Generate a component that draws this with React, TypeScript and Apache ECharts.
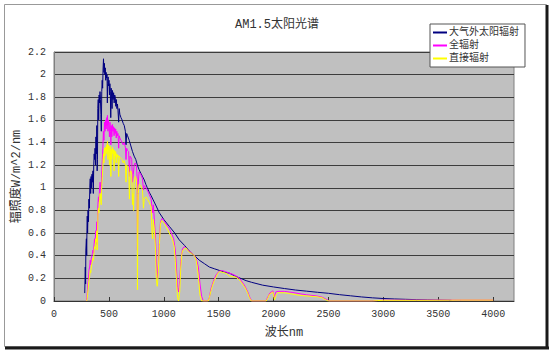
import React, { useEffect, useRef } from "react";
import * as echarts from "echarts";

// Wavelength (nm), spectral irradiance (W/m^2/nm) pairs
const extraterrestrial: number[][] = [
  [280,0.07],[285,0.3],[288,0.15],[290,0.45],[295,0.55],[298,0.4],[300,0.62],[303,0.75],[306,0.6],[310,0.8],[314,0.7],[318,0.9],[322,0.82],[326,1.0],[330,1.08],[334,0.95],[338,1.1],[342,1.0],[346,1.12],[350,1.05],[355,1.15],[358,0.95],[362,1.2],[366,1.3],[370,1.25],[374,1.35],[378,1.2],[382,1.45],[386,1.3],[390,1.55],[393,1.15],[396,1.25],[399,1.7],[403,1.78],[407,1.6],[411,1.82],[415,1.75],[419,1.85],[423,1.78],[427,1.65],[431,1.5],[435,1.85],[439,1.95],[443,1.88],[447,2.05],[451,2.14],[455,2.02],[459,2.1],[463,2.0],[467,2.06],[471,1.95],[475,2.02],[479,1.97],[483,2.0],[486,1.75],[489,1.92],[493,1.98],[497,1.9],[501,1.95],[505,1.82],[509,1.92],[513,1.85],[517,1.62],[521,1.88],[525,1.8],[529,1.7],[533,1.86],[538,1.78],[543,1.84],[548,1.75],[553,1.82],[558,1.8],[563,1.72],[568,1.78],[573,1.7],[578,1.74],[583,1.68],[589,1.58],[594,1.7],[600,1.65],[610,1.62],[620,1.6],[630,1.57],[640,1.55],[650,1.5],[656,1.38],[662,1.48],[670,1.46],[685,1.42],[700,1.37],[715,1.32],[730,1.28],[745,1.25],[760,1.2],[775,1.16],[790,1.13],[806,1.1],[822,1.07],[837,1.03],[850,1.0],[868,0.96],[885,0.93],[900,0.9],[930,0.84],[959,0.78],[980,0.75],[1000,0.72],[1050,0.66],[1100,0.6],[1141,0.54],[1190,0.49],[1233,0.44],[1280,0.4],[1324,0.36],[1370,0.33],[1415,0.3],[1460,0.285],[1507,0.27],[1550,0.255],[1600,0.245],[1650,0.22],[1700,0.2],[1750,0.18],[1800,0.165],[1900,0.14],[2000,0.124],[2100,0.11],[2200,0.097],[2300,0.087],[2400,0.077],[2500,0.068],[2600,0.056],[2700,0.046],[2800,0.036],[2900,0.028],[3000,0.022],[3100,0.018],[3200,0.015],[3300,0.012],[3400,0.01],[3500,0.008],[3620,0.006]
];

const globalRad: number[][] = [
  [295,0.0],[300,0.03],[305,0.1],[310,0.17],[315,0.22],[320,0.28],[325,0.3],[330,0.36],[335,0.32],[340,0.38],[345,0.4],[350,0.42],[355,0.45],[360,0.42],[365,0.5],[370,0.55],[375,0.52],[380,0.62],[385,0.58],[390,0.7],[393,0.5],[396,0.6],[400,0.85],[405,0.92],[410,0.88],[415,1.0],[420,1.05],[425,1.0],[430,0.95],[435,1.15],[440,1.25],[445,1.35],[450,1.5],[455,1.42],[460,1.58],[465,1.5],[470,1.6],[475,1.52],[480,1.62],[484,1.55],[487,1.64],[491,1.5],[495,1.6],[500,1.55],[505,1.45],[510,1.58],[515,1.5],[518,1.38],[522,1.55],[527,1.45],[532,1.56],[537,1.5],[542,1.54],[547,1.46],[552,1.53],[557,1.48],[562,1.52],[567,1.44],[572,1.5],[577,1.46],[583,1.48],[589,1.35],[594,1.46],[600,1.44],[610,1.42],[620,1.4],[630,1.38],[640,1.4],[650,1.36],[656,1.25],[662,1.35],[670,1.33],[680,1.32],[687,1.1],[692,1.28],[700,1.27],[708,1.25],[715,1.05],[722,1.12],[730,1.2],[740,1.22],[750,1.2],[757,1.1],[760,0.45],[763,0.75],[768,1.05],[775,1.14],[790,1.12],[806,1.08],[815,0.98],[822,1.02],[837,1.0],[850,0.98],[868,0.94],[885,0.9],[898,0.78],[905,0.85],[915,0.7],[925,0.55],[935,0.3],[942,0.2],[950,0.32],[960,0.55],[970,0.7],[985,0.73],[1000,0.71],[1020,0.68],[1050,0.64],[1070,0.6],[1090,0.55],[1105,0.45],[1115,0.3],[1125,0.12],[1135,0.08],[1145,0.18],[1155,0.35],[1170,0.46],[1185,0.48],[1200,0.47],[1233,0.44],[1260,0.42],[1280,0.4],[1300,0.36],[1315,0.3],[1330,0.15],[1345,0.04],[1360,0.0],[1400,0.0],[1415,0.03],[1430,0.11],[1450,0.17],[1476,0.23],[1500,0.26],[1530,0.27],[1560,0.26],[1600,0.245],[1630,0.235],[1660,0.22],[1690,0.2],[1720,0.16],[1740,0.13],[1765,0.08],[1785,0.03],[1800,0.0],[1930,0.0],[1950,0.04],[1965,0.07],[1994,0.09],[2008,0.03],[2020,0.08],[2040,0.085],[2100,0.085],[2176,0.075],[2250,0.062],[2300,0.055],[2390,0.045],[2440,0.035],[2470,0.02],[2490,0.01],[2510,0.0],[2900,0.0],[2950,0.004],[3000,0.007],[3300,0.008],[3600,0.008],[4000,0.008]
];

const directRad: number[][] = [
  [298,0.0],[302,0.02],[306,0.06],[310,0.1],[315,0.15],[320,0.19],[325,0.22],[330,0.27],[335,0.25],[340,0.3],[345,0.33],[350,0.35],[355,0.38],[360,0.36],[365,0.44],[370,0.48],[375,0.46],[380,0.55],[385,0.52],[390,0.62],[393,0.45],[396,0.55],[400,0.76],[405,0.82],[410,0.78],[415,0.9],[420,0.95],[425,0.9],[430,0.85],[435,1.02],[440,1.1],[445,1.18],[450,1.3],[455,1.22],[460,1.35],[465,1.28],[470,1.36],[475,1.3],[480,1.38],[484,1.33],[487,1.41],[491,1.25],[495,1.38],[500,1.35],[505,1.2],[510,1.37],[515,1.3],[518,1.1],[522,1.34],[527,1.25],[532,1.36],[537,1.3],[542,1.34],[547,1.15],[552,1.33],[557,1.28],[562,1.32],[567,1.22],[572,1.3],[577,1.27],[583,1.29],[589,1.1],[594,1.28],[600,1.27],[610,1.26],[620,1.25],[630,1.22],[640,1.24],[650,1.2],[656,1.05],[662,1.2],[670,1.19],[680,1.18],[687,0.9],[692,1.14],[700,1.15],[708,1.12],[715,0.85],[720,0.95],[725,0.8],[730,1.05],[740,1.1],[750,1.08],[757,0.95],[760,0.1],[763,0.55],[768,0.95],[775,1.03],[790,1.02],[806,0.98],[815,0.82],[822,0.9],[837,0.92],[850,0.9],[868,0.87],[885,0.83],[893,0.6],[898,0.55],[905,0.72],[915,0.62],[925,0.45],[932,0.2],[940,0.13],[945,0.18],[950,0.25],[960,0.5],[970,0.68],[980,0.71],[1000,0.69],[1020,0.66],[1050,0.6],[1065,0.57],[1080,0.54],[1095,0.48],[1105,0.35],[1115,0.2],[1125,0.03],[1135,0.0],[1145,0.08],[1155,0.3],[1165,0.42],[1175,0.45],[1190,0.46],[1202,0.47],[1215,0.45],[1233,0.43],[1255,0.42],[1279,0.4],[1295,0.36],[1305,0.3],[1318,0.18],[1330,0.05],[1345,0.0],[1405,0.0],[1415,0.03],[1430,0.09],[1445,0.14],[1460,0.18],[1476,0.21],[1490,0.24],[1507,0.26],[1530,0.255],[1568,0.245],[1598,0.22],[1630,0.215],[1659,0.21],[1689,0.185],[1710,0.16],[1735,0.126],[1750,0.1],[1765,0.068],[1780,0.03],[1796,0.0],[1933,0.0],[1950,0.03],[1963,0.06],[1994,0.08],[2009,0.01],[2025,0.06],[2039,0.073],[2100,0.073],[2176,0.06],[2240,0.05],[2298,0.045],[2389,0.038],[2440,0.03],[2466,0.015],[2481,0.008],[2496,0.0],[2900,0.0],[2950,0.004],[3000,0.006],[3300,0.006],[3600,0.007],[3700,0.008],[4000,0.008]
];

const seriesNames = ["大气外太阳辐射", "全辐射", "直接辐射"];
const seriesColors = ["#000080", "#ff00ff", "#ffff00"];
const chartTitle = "AM1.5太阳光谱";
const xName = "波长nm";
const yName = "辐照度W/m^2/nm";

const FONT = "'Liberation Mono', 'Noto Sans CJK SC', monospace";

export default function App() {
  const ref = useRef<HTMLDivElement>(null);
  useEffect(() => {
    if (!ref.current) return;
    const chart = echarts.init(ref.current, undefined, { renderer: "svg" });
    const datasets = [extraterrestrial, globalRad, directRad];
    chart.setOption({
      animation: false,
      backgroundColor: "#ffffff",
      title: {
        text: chartTitle,
        left: "center",
        top: 14,
        textStyle: { fontSize: 12, fontWeight: "normal", color: "#333", fontFamily: FONT },
      },
      legend: {
        orient: "vertical",
        left: 430,
        top: 24,
        padding: [3, 6, 3, 3],
        itemGap: 2,
        itemWidth: 14,
        itemHeight: 2,
        icon: "rect",
        borderColor: "#555",
        borderWidth: 1,
        backgroundColor: "#fff",
        data: seriesNames,
        textStyle: { fontSize: 10, color: "#333", fontFamily: FONT, lineHeight: 11, padding: [0, 0, 0, -3] },
      },
      grid: {
        left: 54, right: 40, top: 52, bottom: 51,
        show: true, backgroundColor: "#c0c0c0", borderColor: "#808080", borderWidth: 1,
      },
      xAxis: {
        type: "value",
        min: 0,
        max: 4190,
        interval: 500,
        name: xName,
        nameLocation: "middle",
        nameGap: 26,
        nameMoveOverlap: false,
        nameTextStyle: { fontSize: 12, color: "#333", fontFamily: FONT },
        axisLine: { show: true, onZero: false, lineStyle: { color: "#333" } },
        axisTick: { show: true, inside: true, length: 4, lineStyle: { color: "#333" } },
        axisLabel: {
          showMaxLabel: false, margin: 8, fontSize: 10, color: "#333", fontFamily: FONT,
          formatter: (v: number) => String(v),
        },
        splitLine: { show: false },
      },
      yAxis: {
        type: "value",
        min: 0,
        max: 2.2,
        interval: 0.2,
        name: yName,
        nameLocation: "middle",
        nameGap: 31,
        nameMoveOverlap: false,
        nameRotate: 90,
        nameTextStyle: { fontSize: 12, color: "#333", fontFamily: FONT },
        axisLine: { show: true, lineStyle: { color: "#808080" } },
        axisTick: { show: false },
        axisLabel: { margin: 8, fontSize: 10, color: "#333", fontFamily: FONT },
        splitLine: { show: true, lineStyle: { color: "#3c3c3c", width: 1 } },
      },
      series: datasets.map((d, i) => ({
        type: "line",
        name: seriesNames[i],
        data: d,
        showSymbol: false,
        symbol: "none",
        color: seriesColors[i],
        lineStyle: { color: seriesColors[i], width: 1 },
        z: 2 + i,
      })),
      graphic: [
        { type: "rect", shape: { x: 4.5, y: 4.5, width: 542, height: 342 }, style: { fill: "none", stroke: "#999", lineWidth: 1 }, silent: true },
        { type: "line", shape: { x1: 547, y1: 5, x2: 547, y2: 349 }, style: { stroke: "#1a1a1a", lineWidth: 3 }, silent: true },
        { type: "line", shape: { x1: 5, y1: 348, x2: 549, y2: 348 }, style: { stroke: "#1a1a1a", lineWidth: 3 }, silent: true },
      ],
    });
    return () => chart.dispose();
  }, []);
  return (
    <div
      ref={ref}
      style={{ position: "fixed", left: 0, top: 0, width: 554, height: 352 }}
    />
  );
}
